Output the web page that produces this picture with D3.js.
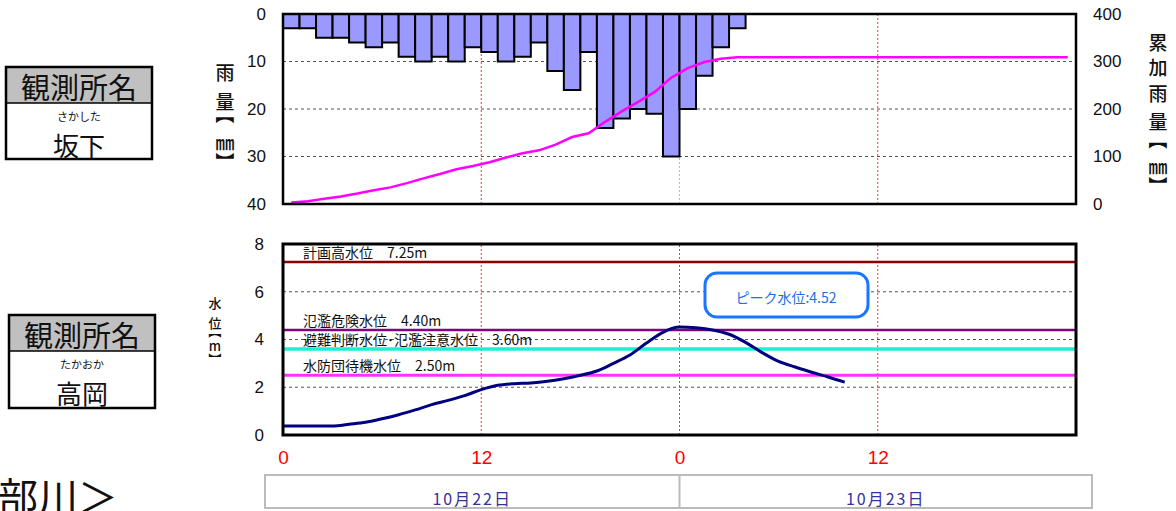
<!DOCTYPE html>
<html>
<head>
<meta charset="utf-8">
<script src="https://cdn.jsdelivr.net/npm/d3@7"></script>
<style>
  body { margin: 0; background: #fff; }
  svg { display: block; }
</style>
</head>
<body>
<div id="chart"></div>
<script>
// hourly rainfall (mm), one bar per hour starting 10/22 0:00
const rainHourly = [3, 3, 5, 5, 6, 7, 6, 9, 10, 9, 10, 7, 8, 10, 9, 6, 12, 16, 8, 24, 22, 20, 21, 30, 20, 13, 7, 3];
// cumulative rainfall line (mm)
const cumHours = [0.5, 1.5, 2.5, 3.5, 4.5, 5.5, 6.5, 7.5, 8.5, 9.5, 10.5, 11.5, 12.5, 13.5, 14.5, 15.5, 16.5, 17.5, 18.5, 19.5, 20.5, 21.5, 22.5, 23.5, 24.5, 25.5, 26.5, 27.5, 47.5];
const cumRain = [3, 6, 11, 16, 22, 29, 35, 44, 54, 63, 73, 80, 88, 98, 107, 113, 125, 141, 149, 173, 195, 215, 236, 266, 286, 299, 306, 309, 309];
// water level (m)
const levelHours = [0, 1, 2, 3, 4, 5, 6, 7, 8, 9, 10, 11, 12, 13, 14, 15, 16, 17, 18, 19, 20, 21, 22, 23, 24, 25, 26, 27, 28, 29, 30, 31, 32, 33, 34];
const levelValues = [0.38, 0.38, 0.38, 0.38, 0.45, 0.53, 0.68, 0.85, 1.05, 1.27, 1.45, 1.65, 1.9, 2.08, 2.15, 2.18, 2.25, 2.36, 2.5, 2.68, 3.0, 3.35, 3.85, 4.3, 4.52, 4.49, 4.4, 4.22, 3.88, 3.45, 3.08, 2.85, 2.63, 2.43, 2.21];

const thresholdNames = ["計画高水位　7.25m", "氾濫危険水位　4.40m", "避難判断水位･氾濫注意水位　3.60m", "水防団待機水位　2.50m"];
const thresholdValues = [7.25, 4.40, 3.60, 2.50];
const peakText = "ピーク水位:4.52";

const rainTicks = [0, 10, 20, 30, 40];
const cumTicks = [0, 100, 200, 300, 400];
const levelTicks = [0, 2, 4, 6, 8];
const hourTicks = [0, 12, 24, 36];
const hourLabels = ["0", "12", "0", "12"];
const dates = ["10月22日", "10月23日"];
const stationNames = ["坂下", "高岡"];
const stationKana = ["さかした", "たかおか"];

const W = 1176, H = 511;
const JP = "'Noto Sans CJK JP', sans-serif";
const NUM = "'Liberation Sans', Arial, sans-serif";

const svg = d3.select("#chart").append("svg")
  .attr("width", W).attr("height", H);

const x = d3.scaleLinear().domain([0, 48]).range([283, 1076]);
const yRain = d3.scaleLinear().domain([0, 40]).range([14, 204]);
const yCum = d3.scaleLinear().domain([0, 400]).range([204, 14]);
const yLevel = d3.scaleLinear().domain([0, 8]).range([435, 244]);

// ---------- top chart: rainfall ----------
const rainG = svg.append("g");

rainG.selectAll(".hgrid").data([10, 20, 30]).join("line")
  .attr("x1", x(0)).attr("x2", x(48))
  .attr("y1", d => yRain(d)).attr("y2", d => yRain(d))
  .attr("stroke", "#555").attr("stroke-dasharray", "3,3").attr("stroke-width", 1);

rainG.selectAll(".vgrid").data([12, 24, 36]).join("line")
  .attr("x1", d => x(d)).attr("x2", d => x(d))
  .attr("y1", yRain(0)).attr("y2", yRain(40))
  .attr("stroke", d => d === 24 ? "#ff9999" : "#ff3333")
  .attr("stroke-dasharray", "2,2").attr("stroke-width", 1);

rainG.selectAll("rect.bar").data(rainHourly).join("rect")
  .attr("class", "bar")
  .attr("x", (d, i) => x(i))
  .attr("y", yRain(0))
  .attr("width", (d, i) => x(i + 1) - x(i))
  .attr("height", d => yRain(d) - yRain(0))
  .attr("fill", "#9999ff")
  .attr("stroke", "#000").attr("stroke-width", 2);

rainG.append("path")
  .datum(cumHours.map((h, i) => [h, cumRain[i]]))
  .attr("d", d3.line().x(d => x(d[0])).y(d => yCum(d[1])))
  .attr("fill", "none").attr("stroke", "#ff00ff").attr("stroke-width", 2.5);

rainG.append("rect")
  .attr("x", x(0)).attr("y", yRain(0))
  .attr("width", x(48) - x(0)).attr("height", yRain(40) - yRain(0))
  .attr("fill", "none").attr("stroke", "#000").attr("stroke-width", 2.5);

const leftRain = rainG.append("g")
  .attr("transform", `translate(${x(0)},0)`)
  .call(d3.axisLeft(yRain).tickValues(rainTicks).tickSize(0).tickPadding(17));
leftRain.select(".domain").remove();
leftRain.selectAll("text").attr("font-family", NUM).attr("font-size", 17).attr("fill", "#111");

const rightCum = rainG.append("g")
  .attr("transform", `translate(${x(48)},0)`)
  .call(d3.axisRight(yCum).tickValues(cumTicks).tickSize(0).tickPadding(17));
rightCum.select(".domain").remove();
rightCum.selectAll("text").attr("font-family", NUM).attr("font-size", 17).attr("fill", "#111");

// vertical axis titles: one glyph per line, brackets turned to their vertical form
function verticalTitle(g, chars, cx, ys, size) {
  chars.forEach((c, i) => {
    const t = g.append("text")
      .attr("text-anchor", "middle").attr("dominant-baseline", "central")
      .attr("font-family", JP).attr("font-size", size).attr("font-weight", 500)
      .attr("fill", "#111")
      .text(c);
    if (c === "【" || c === "】") {
      // ink of 【 sits right of centre, 】 left of centre
      const off = (c === "【" ? -0.22 : 0.22) * size;
      t.attr("x", 0).attr("y", 0)
        .attr("transform", `translate(${cx},${ys[i] + off}) rotate(90)`);
    } else {
      t.attr("x", cx).attr("y", ys[i]);
    }
  });
}
verticalTitle(rainG, ["雨", "量", "【", "㎜", "】"], 225, [71.5, 100, 118.5, 141.5, 157.5], 19);
verticalTitle(rainG, ["累", "加", "雨", "量", "【", "㎜", "】"], 1158, [41, 66, 92, 120, 144, 165, 181.5], 19);

// ---------- bottom chart: water level ----------
const levelG = svg.append("g");

levelG.selectAll(".hgrid").data([2, 4, 6]).join("line")
  .attr("x1", x(0)).attr("x2", x(48))
  .attr("y1", d => yLevel(d)).attr("y2", d => yLevel(d))
  .attr("stroke", "#555").attr("stroke-dasharray", "3,3").attr("stroke-width", 1);

levelG.selectAll(".vgrid").data([12, 24, 36]).join("line")
  .attr("x1", d => x(d)).attr("x2", d => x(d))
  .attr("y1", yLevel(0)).attr("y2", yLevel(8))
  .attr("stroke", "#ff3333").attr("stroke-dasharray", "2,2").attr("stroke-width", 1);

const thColors = ["#8b0000", "#800080", "#19f2d2", "#ff33ff"];
const thWidths = [2.5, 2.5, 3.5, 3];
levelG.selectAll("line.th").data(thresholdValues).join("line")
  .attr("class", "th")
  .attr("x1", x(0)).attr("x2", x(48))
  .attr("y1", d => yLevel(d)).attr("y2", d => yLevel(d))
  .attr("stroke", (d, i) => thColors[i]).attr("stroke-width", (d, i) => thWidths[i]);

levelG.selectAll("text.th").data(thresholdValues).join("text")
  .attr("class", "th")
  .attr("x", 303).attr("y", d => yLevel(d) - 4)
  .attr("font-family", JP).attr("font-size", 14).attr("fill", "#111")
  .text((d, i) => thresholdNames[i]);

levelG.append("path")
  .datum(levelHours.map((h, i) => [h, levelValues[i]]))
  .attr("d", d3.line().curve(d3.curveMonotoneX).x(d => x(d[0])).y(d => yLevel(d[1])))
  .attr("fill", "none").attr("stroke", "#000080").attr("stroke-width", 3);

levelG.append("rect")
  .attr("x", x(0)).attr("y", yLevel(8))
  .attr("width", x(48) - x(0)).attr("height", yLevel(0) - yLevel(8))
  .attr("fill", "none").attr("stroke", "#000").attr("stroke-width", 3);

// peak callout
levelG.append("rect")
  .attr("x", 705).attr("y", 273).attr("width", 163).attr("height", 44)
  .attr("rx", 12).attr("fill", "#fff")
  .attr("stroke", "#1a75ff").attr("stroke-width", 3);
levelG.append("text")
  .attr("x", 786).attr("y", 297)
  .attr("text-anchor", "middle").attr("dominant-baseline", "central")
  .attr("font-family", JP).attr("font-size", 14).attr("fill", "#1a6ee6")
  .text(peakText);

const leftLevel = levelG.append("g")
  .attr("transform", `translate(${x(0)},0)`)
  .call(d3.axisLeft(yLevel).tickValues(levelTicks).tickSize(0).tickPadding(19));
leftLevel.select(".domain").remove();
leftLevel.selectAll("text").attr("font-family", NUM).attr("font-size", 17).attr("fill", "#111");

verticalTitle(levelG, ["水", "位", "【", "m", "】"], 215, [302.5, 322, 334.5, 345, 356.5], 13);

const xAxis = levelG.append("g")
  .attr("transform", `translate(0,${yLevel(0)})`)
  .call(d3.axisBottom(x).tickValues(hourTicks).tickFormat((d, i) => hourLabels[i]).tickSize(0).tickPadding(16));
xAxis.select(".domain").remove();
xAxis.selectAll("text")
  .attr("font-family", "'Liberation Sans Narrow', 'Liberation Sans', sans-serif")
  .attr("font-size", 19).attr("fill", "#ff0000");

// date band
const dateG = svg.append("g");
dateG.append("rect")
  .attr("x", 265).attr("y", 475).attr("width", 827).attr("height", 33)
  .attr("fill", "#fff").attr("stroke", "#bbb").attr("stroke-width", 2);
dateG.append("line")
  .attr("x1", x(24)).attr("x2", x(24)).attr("y1", 475).attr("y2", 508)
  .attr("stroke", "#bbb").attr("stroke-width", 2);
dateG.selectAll("text").data(dates).join("text")
  .attr("x", (d, i) => i === 0 ? (265 + x(24)) / 2 : (x(24) + 1092) / 2)
  .attr("y", 498)
  .attr("text-anchor", "middle").attr("dominant-baseline", "central")
  .attr("font-family", JP).attr("font-size", 16).attr("letter-spacing", 2)
  .attr("fill", "#333399")
  .text(d => d);

// ---------- station name boxes ----------
const boxes = [
  { x: 6, y: 67, w: 146, hh: 36, h: 92 },
  { x: 9, y: 315, w: 146, hh: 36, h: 93 }
];
boxes.forEach((b, i) => {
  const g = svg.append("g");
  g.append("rect").attr("x", b.x).attr("y", b.y).attr("width", b.w).attr("height", b.hh)
    .attr("fill", "#c0c0c0");
  g.append("rect").attr("x", b.x).attr("y", b.y).attr("width", b.w).attr("height", b.h)
    .attr("fill", "none").attr("stroke", "#000").attr("stroke-width", 2.5);
  g.append("line").attr("x1", b.x).attr("x2", b.x + b.w).attr("y1", b.y + b.hh).attr("y2", b.y + b.hh)
    .attr("stroke", "#000").attr("stroke-width", 1.5);
  g.append("text").attr("x", b.x + b.w / 2).attr("y", b.y + b.hh / 2 + 1)
    .attr("text-anchor", "middle").attr("dominant-baseline", "central")
    .attr("font-family", JP).attr("font-size", 29).attr("fill", "#111")
    .text("観測所名");
  g.append("text").attr("x", b.x + b.w / 2).attr("y", b.y + b.hh + 13)
    .attr("text-anchor", "middle").attr("dominant-baseline", "central")
    .attr("font-family", JP).attr("font-size", 11).attr("fill", "#111")
    .text(stationKana[i]);
  g.append("text").attr("x", b.x + b.w / 2).attr("y", b.y + b.hh + 41)
    .attr("text-anchor", "middle").attr("dominant-baseline", "central")
    .attr("font-family", JP).attr("font-size", 26).attr("fill", "#111")
    .text(stationNames[i]);
});

svg.append("text")
  .attr("x", -2).attr("y", 512)
  .attr("font-family", JP).attr("font-size", 40).attr("fill", "#111")
  .text("部川＞");
</script>
</body>
</html>
